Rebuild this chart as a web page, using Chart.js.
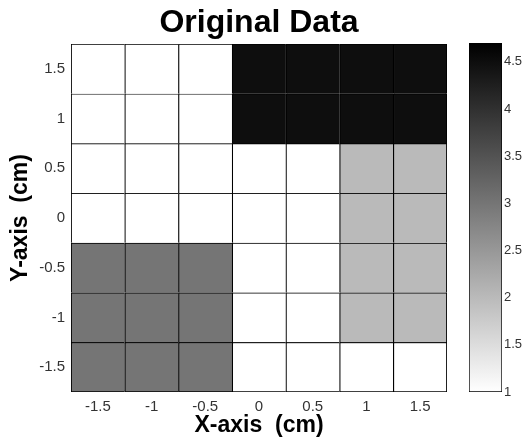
<!DOCTYPE html>
<html>
<head>
<meta charset="utf-8">
<script src="https://cdn.jsdelivr.net/npm/chart.js@4.4.1/dist/chart.umd.min.js"></script>
<style>
  html, body { margin: 0; padding: 0; background: #fff; }
  #wrap { position: relative; width: 525px; height: 441px; }
  #heatmap { position: absolute; left: 0; top: 0; }
  #colorbar { position: absolute; left: 460px; top: 0; }
</style>
</head>
<body>
<div id="wrap">
  <canvas id="heatmap" width="525" height="441"></canvas>
  <canvas id="colorbar" width="65" height="441"></canvas>
</div>
<script>
const xLabels = ["-1.5", "-1", "-0.5", "0", "0.5", "1", "1.5"];
const yRows = [1.5, 1, 0.5, 0, -0.5, -1, -1.5];
const yTicks = [-1.5, -1, -0.5, 0, 0.5, 1, 1.5];

// one row per y value, top to bottom
const cellValues = [
  [1, 1, 1, 4.5, 4.5, 4.5, 4.5],
  [1, 1, 1, 4.5, 4.5, 4.5, 4.5],
  [1, 1, 1, 1, 1, 2, 2],
  [1, 1, 1, 1, 1, 2, 2],
  [3, 3, 3, 1, 1, 2, 2],
  [3, 3, 3, 1, 1, 2, 2],
  [3, 3, 3, 1, 1, 1, 1],
];

const colorTicks = [1, 1.5, 2, 2.5, 3, 3.5, 4, 4.5];
const colorMin = 1;
const colorMax = 4.7;
const cellHalf = 0.25;

const FONT = "'Liberation Sans', Arial, Helvetica, sans-serif";
const TICK_COLOR = "#333";

function grayFor(value) {
  const t = Math.min(1, Math.max(0, (value - colorMin) / (colorMax - colorMin)));
  const g = Math.round(255 * (1 - t));
  return `rgb(${g}, ${g}, ${g})`;
}

const lastCol = xLabels.length - 1;
const lastRow = yRows.length - 1;

const datasets = yRows.map((y, row) => ({
  data: cellValues[row].map(() => [y - cellHalf, y + cellHalf]),
  backgroundColor: cellValues[row].map(grayFor),
  borderColor: "#000",
  borderWidth: (ctx) => ({
    top: 1.2,
    left: 1.2,
    right: ctx.dataIndex === lastCol ? 1.2 : 0,
    bottom: row === lastRow ? 1.2 : 0,
  }),
  borderSkipped: false,
  barPercentage: 1,
  categoryPercentage: 1,
  grouped: false,
}));

new Chart(document.getElementById("heatmap"), {
  type: "bar",
  data: { labels: xLabels, datasets },
  options: {
    responsive: false,
    animation: false,
    devicePixelRatio: 1,
    layout: { padding: { left: 0, right: 78, top: 0, bottom: 0 } },
    plugins: { legend: { display: false }, tooltip: { enabled: false } },
    scales: {
      x: {
        type: "category",
        position: "bottom",
        grid: { display: false, drawTicks: false },
        border: { display: false },
        ticks: { font: { family: FONT, size: 15 }, color: TICK_COLOR, padding: 6, maxRotation: 0 },
        title: {
          display: true,
          text: "X-axis  (cm)",
          font: { family: FONT, size: 23, weight: "bold" },
          color: "#000",
          padding: { top: 0, bottom: 2 },
        },
        afterFit: (scale) => { scale.height = 49; },
      },
      xTop: {
        type: "category",
        position: "top",
        grid: { display: false, drawTicks: false },
        border: { display: false },
        ticks: { display: false },
        title: {
          display: true,
          text: "Original Data",
          font: { family: FONT, size: 32, weight: "bold" },
          color: "#000",
          padding: { top: 4, bottom: 0 },
        },
        afterFit: (scale) => { scale.height = 44; },
      },
      y: {
        type: "linear",
        min: -1.75,
        max: 1.75,
        grid: { display: false, drawTicks: false },
        border: { display: false },
        afterBuildTicks: (scale) => { scale.ticks = yTicks.map((v) => ({ value: v })); },
        ticks: {
          font: { family: FONT, size: 15 },
          color: TICK_COLOR,
          padding: 6,
          callback: (value) => String(value),
        },
        title: {
          display: true,
          text: "Y-axis  (cm)",
          font: { family: FONT, size: 23, weight: "bold" },
          color: "#000",
          padding: { top: 7, bottom: 0 },
        },
        afterFit: (scale) => { scale.width = 71; },
      },
    },
  },
});

new Chart(document.getElementById("colorbar"), {
  type: "bar",
  data: {
    labels: ["scale"],
    datasets: [{
      data: [[colorMin, colorMax]],
      backgroundColor: (ctx) => {
        const chart = ctx.chart;
        const area = chart.chartArea;
        if (!area) return "#888";
        const yScale = chart.scales.y;
        const grad = chart.ctx.createLinearGradient(0, yScale.getPixelForValue(colorMin), 0, yScale.getPixelForValue(colorMax));
        grad.addColorStop(0, grayFor(colorMin));
        grad.addColorStop(1, grayFor(colorMax));
        return grad;
      },
      borderColor: "#000",
      borderWidth: 1,
      borderSkipped: false,
      barPercentage: 1,
      categoryPercentage: 1,
    }],
  },
  options: {
    responsive: false,
    animation: false,
    devicePixelRatio: 1,
    layout: { padding: { left: 9, right: 0, top: 43, bottom: 49 } },
    plugins: { legend: { display: false }, tooltip: { enabled: false } },
    scales: {
      x: { display: false },
      y: {
        position: "right",
        min: colorMin,
        max: colorMax,
        grid: { display: false, drawTicks: false },
        border: { display: false },
        afterBuildTicks: (scale) => { scale.ticks = colorTicks.map((v) => ({ value: v })); },
        ticks: {
          font: { family: FONT, size: 13 },
          color: TICK_COLOR,
          padding: 2,
          callback: (value) => String(value),
        },
        afterFit: (scale) => { scale.width = 23; },
      },
    },
  },
});
</script>
</body>
</html>
